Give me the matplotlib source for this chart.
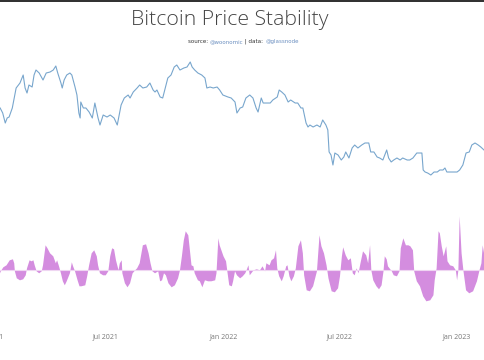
import matplotlib
matplotlib.use('Agg')
import matplotlib.pyplot as plt
import matplotlib.dates as mdates
import numpy as np
import datetime as dt

# ---- data (days since 2021-01-01) ----
price_days = [16, 20, 24, 27, 30, 35, 38, 41, 47, 52, 55, 58, 61, 66, 69, 72, 77, 83, 88, 94,
              99, 103, 106, 111, 113, 116, 120, 125, 128, 133, 136, 139, 141, 142, 146, 150, 155, 160, 164, 169,
              172, 177, 183, 188, 194, 199, 202, 205, 210, 216, 219, 224, 230, 234, 239, 245, 250, 255, 258, 261,
              266, 270, 274, 278, 283, 288, 292, 297, 303, 308, 313, 316, 320, 325, 331, 336, 339, 344, 349, 355,
              359, 364, 372, 377, 383, 386, 391, 395, 400, 406, 411, 416, 419, 424, 427, 431, 438, 442, 449, 452,
              456, 461, 466, 470, 477, 481, 486, 489, 494, 497, 500, 505, 511, 516, 520, 525, 528, 530, 533, 536,
              539, 544, 549, 553, 556, 561, 566, 570, 575, 581, 586, 592, 595, 600, 605, 609, 614, 617, 620, 623,
              627, 631, 636, 641, 645, 652, 656, 661, 667, 672, 675, 677, 680, 684, 689, 694, 699, 703, 708, 711,
              714, 719, 724, 730, 734, 739, 744, 749, 753, 758, 763, 767, 772]
price_usd = [37380, 35050, 30820, 32870, 33290, 37380, 42500, 48330, 51530, 57110, 48330, 45320, 50230, 48950, 57110, 60900, 58600, 53560, 58600, 59360,
             60900, 64120, 58600, 51530, 48330, 53560, 57110, 58600, 57110, 48950, 44170, 35050, 32870, 40370, 37380, 37380, 35500, 32870, 39850, 32870,
             30040, 34160, 33290, 34160, 32870, 30040, 34160, 38840, 42500, 44170, 42500, 45910, 48330, 50230, 48330, 48950, 51530, 47100, 45910, 47100,
             43050, 42500, 48330, 54950, 57110, 63300, 64950, 60900, 62490, 63300, 67500, 63300, 60900, 58600, 57110, 54950, 48330, 48950, 48330, 48950,
             47100, 44170, 43050, 42500, 40370, 35050, 37380, 37860, 42500, 44170, 42500, 37380, 35500, 42500, 39850, 39850, 39850, 41420, 43050, 47100,
             45910, 44170, 40370, 41420, 39850, 39850, 37380, 37380, 30820, 29280, 30040, 29280, 30040, 29280, 32040, 30040, 28180, 21240, 20430, 17970,
             20960, 20430, 19160, 19910, 21240, 19660, 22360, 23230, 22360, 23230, 23840, 23840, 21240, 21240, 19910, 19660, 19160, 20430, 21790, 19660,
             18680, 19160, 19660, 19160, 19660, 19160, 19160, 19660, 20960, 20960, 20960, 16850, 16420, 16210, 15800, 16420, 16420, 16850, 16850, 17290,
             16420, 16420, 16420, 16420, 16850, 17970, 20960, 21240, 23230, 23840, 23230, 22640, 21790]

stab_days = [16, 18, 21, 26, 31, 36, 38, 39, 42, 47, 52, 56, 58, 62, 65, 68, 70, 73, 77, 81,
             83, 87, 90, 94, 99, 103, 105, 108, 111, 114, 117, 120, 125, 128, 130, 133, 137, 140, 143, 149,
             152, 155, 159, 163, 167, 169, 172, 177, 181, 185, 188, 191, 194, 197, 201, 203, 206, 207, 211, 215,
             219, 223, 227, 230, 234, 239, 244, 248, 251, 254, 258, 263, 266, 269, 272, 275, 279, 284, 289, 294,
             297, 300, 303, 306, 310, 313, 315, 318, 320, 325, 328, 332, 336, 341, 346, 352, 354, 357, 359, 365,
             369, 371, 374, 378, 380, 383, 386, 391, 395, 399, 401, 404, 406, 412, 417, 422, 426, 430, 432, 437,
             440, 444, 447, 449, 452, 456, 459, 463, 465, 468, 471, 475, 478, 482, 486, 489, 491, 495, 500, 505,
             511, 515, 518, 522, 526, 529, 534, 539, 544, 547, 550, 552, 556, 560, 564, 567, 570, 573, 576, 579,
             583, 588, 591, 594, 596, 599, 604, 608, 612, 615, 617, 620, 622, 628, 631, 636, 640, 642, 646, 650,
             654, 657, 661, 663, 667, 672, 677, 682, 688, 693, 695, 698, 701, 703, 706, 709, 713, 715, 719, 724,
             728, 730, 732, 734, 737, 740, 744, 749, 755, 761, 765, 768, 770, 774]
stab_values = [-3, 0, 3, 5, 10, 11, 7, -1, -8, -10, -9, -5, 2, 10, 9, 10, 5, -1, -3, -1,
               5, 25, 22, 17, 14, 7, 10, 4, -3, -11, -15, -11, -3, 8, 4, -1, -10, -16, -16, -15,
               -6, 5, 17, 20, 14, 5, -3, -5, -5, -1, 14, 22, 21, 10, 0, 7, 10, -3, -13, -17,
               -13, -3, 0, 2, 7, 25, 26, 17, 7, -1, -3, -1, -11, -10, -3, -5, -13, -17, -15, -8,
               0, 14, 30, 39, 35, 17, 5, 4, -3, -10, -11, -17, -10, -11, -11, -10, -3, 32, 25, 14,
               9, -1, -15, -16, -11, -1, -5, -8, -6, -3, 0, 5, -5, 0, 1, 0, 4, -1, 7, 5,
               10, 12, 20, 2, -6, -11, -6, 4, 5, -6, -11, -6, 2, 24, 30, 17, -5, -20, -21, -16,
               -1, 35, 24, 17, 5, -8, -21, -22, -18, -6, 14, 23, 15, 10, 12, -3, -5, 2, -3, 7,
               19, 15, 7, 25, 0, -10, -16, -19, -15, -1, 14, 11, 4, -1, -5, -6, -1, 22, 32, 25,
               25, 24, 20, -1, -11, -16, -26, -31, -30, -25, -10, 2, 39, 37, 24, 14, 24, 9, 5, 4,
               0, -10, 0, 54, 17, -1, -20, -23, -21, -11, 0, 7, 25, 10]

tick_dates = ['2021-01-01', '2021-07-01', '2022-01-01', '2022-07-01', '2023-01-01']
tick_labels = ['Jan 2021', 'Jul 2021', 'Jan 2022', 'Jul 2022', 'Jan 2023']
title_text = 'Bitcoin Price Stability'
subtitle_pieces = ['source: ', '@woonomic', ' | data: ', '@glassnode']
subtitle_colors = ['#333333', '#6b8fc0', '#333333', '#6b8fc0']

# ---- figure ----
W, H = 485, 360
fig = plt.figure(figsize=(W / 100, H / 100), dpi=100)
fig.patch.set_facecolor('white')

base = mdates.date2num(dt.datetime(2021, 1, 1))
px_per_day = 0.64
x0_px = -10.1  # pixel position of 2021-01-01
left_px, right_px = -30, 515
xlim = (base + (left_px - x0_px) / px_per_day, base + (right_px - x0_px) / px_per_day)


def fig_box(l, t, r, b):
    return [l / W, 1 - b / H, (r - l) / W, (b - t) / H]


pdates = base + np.array(price_days, dtype=float)
sdates = base + np.array(stab_days, dtype=float)

# price panel
ax1 = fig.add_axes(fig_box(left_px, 50, right_px, 190))
ax1.plot(pdates, price_usd, color='#78a6cd', lw=0.8)
ax1.set_yscale('log')
ax1.set_ylim(13030, 78760)
ax1.set_xlim(xlim)
ax1.axis('off')

# stability panel
ax2 = fig.add_axes(fig_box(left_px, 205, right_px, 310))
sv = np.array(stab_values, dtype=float)
ax2.fill_between(sdates, 0, sv, color='#d48ddf', lw=0, interpolate=True)
ax2.axhline(0, color='#efd6f2', lw=0.8)
ax2.set_ylim(-39.7, 65.3)
ax2.set_xlim(xlim)
for s in ax2.spines.values():
    s.set_visible(False)
ax2.set_yticks([])
ax2.set_xticks([mdates.date2num(dt.datetime.strptime(d, '%Y-%m-%d')) for d in tick_dates])
ax2.set_xticklabels(tick_labels, fontsize=5, color='#777777', family='Open Sans')
ax2.tick_params(axis='x', length=0, pad=17)

# title + subtitle
fig.text(230 / W, 1 - 20 / H, title_text, ha='center', va='center', fontsize=15.3,
         color='#444444', family='Open Sans', fontweight='light')

prev = fig.text(188 / W, 1 - 43 / H, subtitle_pieces[0], ha='left', va='baseline',
                fontsize=4.0, color=subtitle_colors[0], family='DejaVu Sans')
for txt, col in zip(subtitle_pieces[1:], subtitle_colors[1:]):
    prev = ax1.annotate(txt, xy=(1, 0), xycoords=prev, xytext=(0, 0),
                        textcoords='offset points', ha='left', va='bottom',
                        fontsize=4.0, color=col, family='DejaVu Sans',
                        annotation_clip=False)

# dark top border
fig.add_artist(plt.Rectangle((0, 1 - 2 / H), 1, 2 / H, transform=fig.transFigure,
                             color='#333333', lw=0))

fig.savefig('out.png', dpi=100)
